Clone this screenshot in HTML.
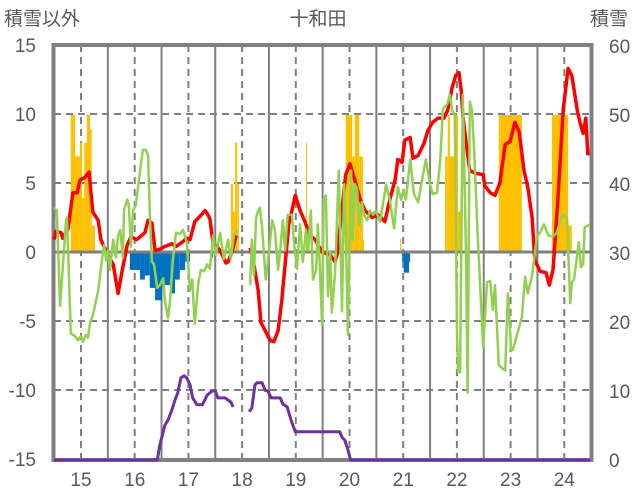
<!DOCTYPE html>
<html><head><meta charset="utf-8"><style>
html,body{margin:0;padding:0;background:#fff;}
svg{display:block;font-family:"Liberation Sans","Noto Sans CJK JP",sans-serif;}
</style></head><body>
<svg id="chart" width="636" height="501" viewBox="0 0 636 501">
<g id="grid"></g>
<g id="bars"></g>
<g id="axes"></g>
<g id="lines"></g>
<text x="318" y="25" text-anchor="middle" font-size="19" fill="#595959">十和田</text>
<text x="4" y="25" font-size="19" fill="#595959">積雪以外</text>
<text x="590" y="25" font-size="19" fill="#595959">積雪</text>
</svg>
<script>
const leftTicks=[15,10,5,0,-5,-10,-15];
const rightTicks=[60,50,40,30,20,10,0];
const yearLabels=["15","16","17","18","19","20","21","22","23","24"];
const yearVals=[15,16,17,18,19,20,21,22,23,24];

const redT=[14.50,14.53,14.63,14.66,14.76,14.85,14.93,14.98,15.07,15.15,15.22,15.32,15.37,15.50,15.60,15.69,15.76,15.86,15.93,16.04,16.19,16.25,16.32,16.38,16.47,16.56,16.69,16.77,16.88,16.97,17.03,17.12,17.22,17.31,17.35,17.40,17.46,17.53,17.59,17.64,17.70,17.74,17.81,17.89,null,18.15,18.22,18.30,18.35,18.43,18.52,18.59,18.67,18.74,18.80,18.87,18.99,19.08,19.17,19.26,19.36,19.49,19.64,19.73,19.77,19.82,19.93,20.01,20.10,20.20,20.29,20.42,20.53,20.66,20.75,20.85,20.90,20.98,21.03,21.13,21.18,21.28,21.39,21.46,21.55,21.65,21.76,21.83,21.91,21.98,22.04,22.08,22.11,22.17,22.24,22.35,22.49,22.52,22.62,22.71,22.80,22.90,22.99,23.08,23.16,23.25,23.32,23.40,23.45,23.55,23.66,23.72,23.79,23.88,23.98,24.07,24.14,24.24,24.29,24.35,24.40,24.44];
const redV=[0.9,1.5,1.4,1.0,1.7,4.3,4.3,5.2,5.4,5.8,2.9,2.3,0.9,-0.2,-0.9,-3.0,-1.5,0.5,1.1,0.9,1.4,2.3,2.1,0.1,0.2,0.4,0.6,0.4,0.7,1.0,0.9,2.2,2.6,3.0,2.8,2.4,0.6,0.4,0.1,-0.3,-0.8,-0.7,0.0,1.2,null,0.3,-0.9,-2.8,-5.1,-5.7,-6.4,-6.5,-5.7,-3.5,-0.9,2.0,4.1,3.0,2.2,1.2,0.9,0.0,-0.2,-0.7,-0.2,1.6,5.6,6.4,5.2,3.8,3.0,2.5,2.7,2.2,3.8,5.2,6.7,6.5,8.1,8.3,6.8,7.0,7.9,8.8,9.4,9.7,9.7,10.3,11.9,12.8,13.0,11.7,9.9,8.0,5.9,5.7,5.6,4.8,4.3,4.1,5.0,7.8,8.0,9.4,8.7,5.9,4.7,2.5,-0.6,-1.4,-1.5,-2.4,-1.3,3.8,10.3,13.3,12.8,10.3,9.4,8.6,9.7,7.0];

const greenT=[14.50,14.55,14.61,14.72,14.74,14.81,14.89,14.94,15.00,15.04,15.09,15.13,15.17,15.22,15.32,15.39,15.43,15.47,15.50,15.54,15.60,15.65,15.69,15.73,15.78,15.80,15.86,15.89,15.93,15.97,16.02,16.10,16.15,16.21,16.25,16.28,16.32,16.36,16.42,16.47,16.53,16.56,16.62,16.66,16.71,16.77,16.84,16.90,16.97,17.03,17.07,17.12,17.18,17.23,17.29,17.35,17.40,17.46,17.51,17.59,17.66,17.74,17.79,17.85,17.92,null,18.15,18.18,18.22,18.26,18.30,18.33,18.37,18.44,18.48,18.56,18.61,18.67,18.71,18.76,18.80,18.85,18.93,18.96,19.02,19.08,19.13,19.19,19.23,19.28,19.32,19.38,19.41,19.45,19.49,19.52,19.56,19.60,19.64,19.67,19.73,19.80,19.86,19.90,19.93,19.97,20.03,20.06,20.10,20.14,20.18,20.23,20.27,20.33,20.38,20.44,20.49,20.57,20.62,20.68,20.75,20.83,20.90,20.96,21.01,21.05,21.13,21.20,21.28,21.35,21.42,21.50,21.55,21.63,21.69,21.74,21.82,21.87,21.91,21.96,22.00,22.02,22.06,22.11,22.17,22.20,22.24,22.28,22.32,22.39,22.49,22.56,22.62,22.67,22.71,22.78,22.90,22.95,23.01,23.04,23.14,23.21,23.27,23.32,23.40,23.45,23.49,23.55,23.62,23.70,23.79,23.86,23.96,24.05,24.11,24.14,24.18,24.27,24.31,24.35,24.38,24.48];
const greenV=[3.2,3.0,-3.9,2.2,2.5,-5.9,-6.1,-6.4,-6.1,-6.5,-6.0,-6.2,-5.1,-4.6,-2.8,-0.6,0.5,-0.6,0.1,-1.3,0.9,-0.4,1.2,1.6,-0.4,3.0,3.8,3.4,0.4,3.0,3.4,5.9,7.4,7.4,7.0,3.0,-0.7,-0.9,-2.6,-2.4,-1.9,-3.5,-4.8,-3.5,-0.6,1.4,1.3,1.6,0.7,-2.8,-2.0,-5.2,-2.4,-1.3,-1.4,-0.9,-1.2,1.2,-0.2,1.4,-0.5,0.9,-0.5,1.2,1.6,null,-2.4,0.9,-1.7,2.5,3.0,3.2,1.9,-2.0,-0.7,2.3,1.6,-1.3,0.1,2.3,0.1,2.7,2.7,0.9,-1.2,2.0,-0.7,1.6,0.1,3.0,-2.0,-1.3,2.0,-1.3,-5.3,3.8,4.1,-3.2,0.0,-4.4,-1.6,5.9,-4.3,4.9,1.9,-6.0,5.9,0.9,4.9,4.6,1.9,3.6,2.7,2.3,3.0,2.7,3.0,2.2,3.4,4.9,3.8,1.7,4.7,3.8,4.5,3.8,6.7,4.2,3.6,5.2,6.7,4.9,4.2,4.3,6.7,10.4,10.7,11.4,10.3,9.9,-5.3,-8.7,-8.7,11.4,0.0,-10.2,10.9,10.3,7.4,1.0,-6.9,-2.2,-2.1,-4.2,-2.4,-8.2,-8.6,-3.0,-7.1,-7.1,-5.7,-4.7,-1.8,-3.0,-1.7,-0.1,1.1,1.4,2.0,1.2,1.1,1.4,2.7,2.5,-3.7,-2.2,-2.0,0.7,-1.1,-0.9,1.8,2.0];

const purpleT=[14.50,16.42,16.47,16.56,16.62,16.69,16.75,16.80,16.86,16.92,16.97,17.03,17.08,17.16,17.26,17.35,17.44,17.50,17.55,17.68,17.74,17.79,17.83,null,18.13,18.18,18.24,18.28,18.37,18.43,18.48,18.54,18.71,18.76,18.84,18.91,18.99,19.08,19.82,19.86,19.91,19.97,20.02,24.48];
const purpleV=[0,0,2.2,5.0,5.8,7.2,8.7,9.7,11.9,12.2,11.9,10.9,9.0,8.0,8.0,9.4,10.0,10.0,9.0,9.0,8.7,8.4,7.7,null,7.0,7.5,10.9,11.2,11.2,10.1,10.0,9.0,9.0,8.1,7.7,5.8,4.1,4.1,4.1,3.3,2.9,1.5,0,0];

const snowStart=[14.81,14.89,14.98,15.02,15.06,15.11,15.17,15.20,17.79,17.83,17.87,17.91,19.19,19.93,20.05,20.10,20.18,20.25,20.94,21.78,21.83,21.87,21.96,22.02,22.78,23.77,24.07];
const snowEnd=[14.89,14.98,15.02,15.06,15.11,15.17,15.20,15.26,17.83,17.87,17.91,17.94,19.21,20.05,20.10,20.18,20.25,20.27,20.96,21.83,21.87,21.96,22.02,22.09,23.21,24.07,24.14];
const snowVal=[50,44,46,38,46,50,48,34,40,36,46,40,46,50,44,50,44,32,32,44,50,44,50,36,50,50,34];

const negStart=[15.91,16.10,16.19,16.28,16.38,16.51,16.66,16.75,16.84,16.94,17.42,20.98,21.01,21.11];
const negEnd=[16.10,16.19,16.28,16.38,16.51,16.66,16.75,16.84,16.94,17.03,17.46,21.01,21.11,21.13];
const negVal=[-1.3,-2.0,-1.7,-2.6,-3.5,-2.4,-3.0,-2.0,-1.3,-0.7,-0.4,-0.7,-1.5,-0.7];

const PL=54,PR=591,PT=45,PB=460;
function xS(t){return 81+(t-15)*53.7;}
function yL(v){return 252-v*13.8;}
function yR(v){return 460-v*6.9;}
const NS="http://www.w3.org/2000/svg";
function mk(tag,attrs,parent){const e=document.createElementNS(NS,tag);for(const k in attrs)e.setAttribute(k,attrs[k]);parent.appendChild(e);return e;}
const grid=document.getElementById('grid'),bars=document.getElementById('bars'),lines=document.getElementById('lines'),axes=document.getElementById('axes');

leftTicks.forEach((v,i)=>{
  const y=yL(v);
  if(v!==0&&v!==15&&v!==-15){const l=mk('line',{x1:PL,x2:PR,y1:y,y2:y,stroke:'#808080','stroke-width':2,'stroke-dasharray':'7,5'},grid);
  
  }
  const t=mk('text',{x:36,y:y+7,'text-anchor':'end','font-size':19,fill:'#595959'},axes);t.textContent=String(v);
  
  
});
rightTicks.forEach(v=>{
  const t=mk('text',{x:609,y:yR(v)+7,'font-size':19,fill:'#595959'},axes);t.textContent=String(v);
  
  
});
yearVals.forEach((yv,i)=>{
  const x=xS(yv);
  const d=mk('line',{x1:x,x2:x,y1:PT,y2:PB,stroke:'#808080','stroke-width':2,'stroke-dasharray':'7,5'},grid);
  
  
  if(yv<24){const s=mk('line',{x1:xS(yv+0.5),x2:xS(yv+0.5),y1:PT,y2:PB,stroke:'#808080','stroke-width':2},grid);
  
  }
  const t=mk('text',{x:x,y:486,'text-anchor':'middle','font-size':19,fill:'#595959'},axes);t.textContent=yearLabels[i];
  
  
});
snowVal.forEach((v,i)=>{
  const x1=xS(snowStart[i]),x2=xS(snowEnd[i]);
  const r=mk('rect',{x:x1,y:yR(v),width:x2-x1,height:yR(30)-yR(v),fill:'#ffc000'},bars);
  
  
});
negVal.forEach((v,i)=>{
  const x1=xS(negStart[i]),x2=xS(negEnd[i]);
  const r=mk('rect',{x:x1,y:yL(0),width:x2-x1,height:yL(v)-yL(0),fill:'#0070c0'},bars);
  
  
});
function pathFrom(T,V,yf){let d='',pen=false;for(let i=0;i<T.length;i++){if(T[i]===null){pen=false;continue;}d+=(pen?'L':'M')+xS(T[i]).toFixed(1)+','+yf(V[i]).toFixed(1);pen=true;}return d;}
const zero=mk('line',{x1:PL,x2:PR,y1:yL(0),y2:yL(0),stroke:'#808080','stroke-width':3},axes);


const frame=mk('rect',{x:PL-0.5,y:PT,width:PR-PL+1,height:PB-PT,fill:'none',stroke:'#808080','stroke-width':4},axes);


const red=mk('path',{d:pathFrom(redT,redV,yL),fill:'none',stroke:'#ff0000','stroke-width':3.5,'stroke-linejoin':'round'},lines);


const green=mk('path',{d:pathFrom(greenT,greenV,yL),fill:'none',stroke:'#92d050','stroke-width':2.5,'stroke-linejoin':'round'},lines);


const purple=mk('path',{d:pathFrom(purpleT,purpleV,yR),fill:'none',stroke:'#7030a0','stroke-width':3,'stroke-linejoin':'round'},lines);


</script>
</body></html>
